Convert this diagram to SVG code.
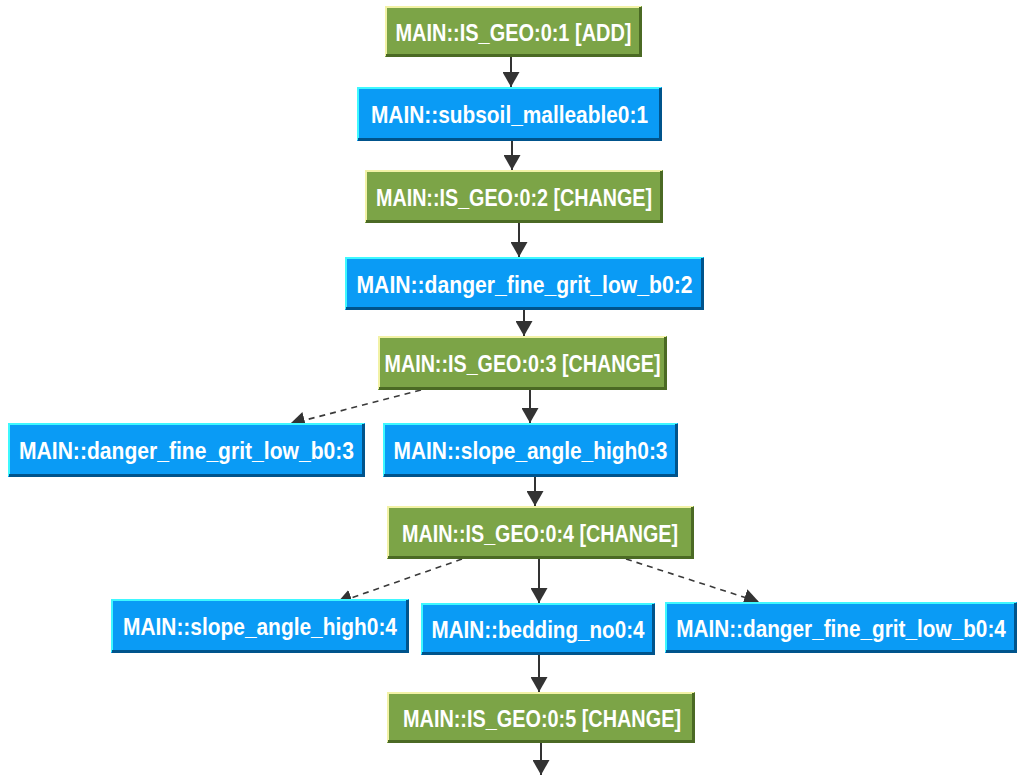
<svg xmlns="http://www.w3.org/2000/svg" width="1019" height="776" viewBox="0 0 1019 776">
  <style>
    .green .body { fill: #7ca447; }
    .green .hi { stroke: #f2f2a6; }
    .green .lo { stroke: #4b6a24; }
    .blue .body { fill: #0a9bf5; }
    .blue .hi { stroke: #3ff8ff; }
    .blue .lo { stroke: #00548c; }
    .hi { fill: none; stroke-width: 2; }
    .lo { fill: none; stroke-width: 3; }
    .node text { font-family: "Liberation Sans", Arial, sans-serif; font-weight: bold; font-size: 24px; fill: #ffffff; text-anchor: middle; }
    .edge { fill: none; stroke: #333333; stroke-width: 2; }
    .dashed { stroke: #3a3a3a; stroke-width: 1.6; stroke-dasharray: 6 5; }
  </style>
  <defs>
    <marker id="arrow" viewBox="0 0 16 17" refX="15" refY="8.5" markerWidth="16" markerHeight="17" markerUnits="userSpaceOnUse" orient="auto">
      <path d="M0,0 L15,8.5 L0,17 z" fill="#333333"/>
    </marker>
  </defs>
  <rect width="1019" height="776" fill="#ffffff"/>

  <!-- connectors -->
  <g id="edges">
    <path class="edge" d="M511,57 V87" marker-end="url(#arrow)"/>
    <path class="edge" d="M512,141 V170" marker-end="url(#arrow)"/>
    <path class="edge" d="M519,223 V257" marker-end="url(#arrow)"/>
    <path class="edge" d="M524,310 V336" marker-end="url(#arrow)"/>
    <path class="edge" d="M530,390 V423" marker-end="url(#arrow)"/>
    <path class="edge" d="M535,477 V506" marker-end="url(#arrow)"/>
    <path class="edge" d="M539,559 V603" marker-end="url(#arrow)"/>
    <path class="edge" d="M539,655 V692" marker-end="url(#arrow)"/>
    <path class="edge" d="M541,743 V775" marker-end="url(#arrow)"/>
    <path class="edge dashed" d="M421,390 L290,424" marker-end="url(#arrow)"/>
    <path class="edge dashed" d="M462,559 L337,603" marker-end="url(#arrow)"/>
    <path class="edge dashed" d="M626,559 L759,602" marker-end="url(#arrow)"/>
  </g>

  <!-- nodes -->
  <g id="n1" class="node green">
    <rect class="body" x="385" y="6" width="257" height="51"/>
    <path class="hi" d="M386,56 V7 H641"/>
    <path class="lo" d="M386,55.5 H640.5 V7"/>
    <text x="513.5" y="41" textLength="236" lengthAdjust="spacingAndGlyphs">MAIN::IS_GEO:0:1 [ADD]</text>
  </g>
  <g id="n2" class="node blue">
    <rect class="body" x="357" y="87" width="305" height="54"/>
    <path class="hi" d="M358,140 V88 H661"/>
    <path class="lo" d="M358,139.5 H660.5 V88"/>
    <text x="509.5" y="123" textLength="277" lengthAdjust="spacingAndGlyphs">MAIN::subsoil_malleable0:1</text>
  </g>
  <g id="n3" class="node green">
    <rect class="body" x="365" y="170" width="298" height="53"/>
    <path class="hi" d="M366,222 V171 H662"/>
    <path class="lo" d="M366,221.5 H661.5 V171"/>
    <text x="514" y="206" textLength="276" lengthAdjust="spacingAndGlyphs">MAIN::IS_GEO:0:2 [CHANGE]</text>
  </g>
  <g id="n4" class="node blue">
    <rect class="body" x="345" y="257" width="359" height="53"/>
    <path class="hi" d="M346,309 V258 H703"/>
    <path class="lo" d="M346,308.5 H702.5 V258"/>
    <text x="524.5" y="293" textLength="336" lengthAdjust="spacingAndGlyphs">MAIN::danger_fine_grit_low_b0:2</text>
  </g>
  <g id="n5" class="node green">
    <rect class="body" x="378" y="336" width="289" height="54"/>
    <path class="hi" d="M379,389 V337 H666"/>
    <path class="lo" d="M379,388.5 H665.5 V337"/>
    <text x="522.5" y="372" textLength="276" lengthAdjust="spacingAndGlyphs">MAIN::IS_GEO:0:3 [CHANGE]</text>
  </g>
  <g id="n6" class="node blue">
    <rect class="body" x="8" y="423" width="357" height="54"/>
    <path class="hi" d="M9,476 V424 H364"/>
    <path class="lo" d="M9,475.5 H363.5 V424"/>
    <text x="186.5" y="459" textLength="335" lengthAdjust="spacingAndGlyphs">MAIN::danger_fine_grit_low_b0:3</text>
  </g>
  <g id="n7" class="node blue">
    <rect class="body" x="383" y="423" width="295" height="54"/>
    <path class="hi" d="M384,476 V424 H677"/>
    <path class="lo" d="M384,475.5 H676.5 V424"/>
    <text x="530.5" y="459" textLength="274" lengthAdjust="spacingAndGlyphs">MAIN::slope_angle_high0:3</text>
  </g>
  <g id="n8" class="node green">
    <rect class="body" x="387" y="506" width="307" height="53"/>
    <path class="hi" d="M388,558 V507 H693"/>
    <path class="lo" d="M388,557.5 H692.5 V507"/>
    <text x="540" y="542" textLength="276" lengthAdjust="spacingAndGlyphs">MAIN::IS_GEO:0:4 [CHANGE]</text>
  </g>
  <g id="n9" class="node blue">
    <rect class="body" x="111" y="599" width="298" height="54"/>
    <path class="hi" d="M112,652 V600 H408"/>
    <path class="lo" d="M112,651.5 H407.5 V600"/>
    <text x="260" y="635" textLength="274" lengthAdjust="spacingAndGlyphs">MAIN::slope_angle_high0:4</text>
  </g>
  <g id="n10" class="node blue">
    <rect class="body" x="421" y="603" width="234" height="52"/>
    <path class="hi" d="M422,654 V604 H654"/>
    <path class="lo" d="M422,653.5 H653.5 V604"/>
    <text x="538" y="638" textLength="213" lengthAdjust="spacingAndGlyphs">MAIN::bedding_no0:4</text>
  </g>
  <g id="n11" class="node blue">
    <rect class="body" x="665" y="602" width="352" height="51"/>
    <path class="hi" d="M666,652 V603 H1016"/>
    <path class="lo" d="M666,651.5 H1015.5 V603"/>
    <!-- horizontally condensed so the label stays inside the right-hand box -->
    <text transform="translate(841,637) scale(0.865,1)" x="0" y="0">MAIN::danger_fine_grit_low_b0:4</text>
  </g>
  <g id="n12" class="node green">
    <rect class="body" x="387" y="692" width="308" height="51"/>
    <path class="hi" d="M388,742 V693 H694"/>
    <path class="lo" d="M388,741.5 H693.5 V693"/>
    <text x="542" y="727" textLength="278" lengthAdjust="spacingAndGlyphs">MAIN::IS_GEO:0:5 [CHANGE]</text>
  </g>
</svg>
